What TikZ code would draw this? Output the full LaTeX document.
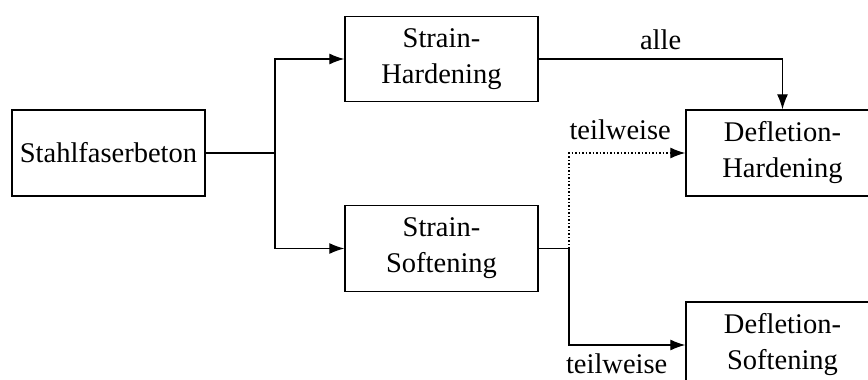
\documentclass[tikz,border=0pt]{standalone}
\usepackage{fontspec}
\setmainfont{Liberation Serif}
\usetikzlibrary{arrows.meta}
\begin{document}
\begin{tikzpicture}[x=1pt,y=-1pt,
  txt/.style={font=\fontsize{28.5}{36}\selectfont},
  box/.style={txt, draw, line width=1.4pt, inner sep=0pt, align=center,
    minimum width=193pt, minimum height=86pt},
  wire/.style={line width=1.2pt},
  conn/.style={wire, -{Latex[length=15pt,width=11pt]}},
  lbl/.style={txt, inner sep=0pt}]
\useasboundingbox (0,0) rectangle (868,380);
\clip (0,0) rectangle (868,380);

% boxes
\node[box] (sfb) at (108.5,153) {Stahlfaserbeton};
\node[box, minimum height=85.5pt] (sh) at (441.5,59) {Strain-\\Hardening};
\node[box, minimum height=85.5pt] (ss) at (441.5,248.5) {Strain-\\Softening};
\node[box] (dh) at (782.5,153) {Defletion-\\Hardening};
\node[box] (ds) at (782.5,345) {Defletion-\\Softening};

% branch points
\coordinate (split) at (275,153);
\coordinate (fork) at (569,248.5);

% connectors
\draw[wire] (sfb.east) -- (split);
\draw[conn] (split) |- (sh.west);
\draw[conn] (split) |- (ss.west);
\draw[conn] (sh.east) -| node[lbl, pos=0.25, above=9pt] {alle} (dh.north);
\draw[wire] (ss.east) -- (fork);
\draw[conn, dash pattern=on 1.5pt off 2pt] (fork) |- node[lbl, pos=0.72, above=13pt] {teilweise} (dh.west);
\draw[conn] (fork) |- node[lbl, pos=0.705, below=8pt] {teilweise} (ds.west);
\end{tikzpicture}
\end{document}
